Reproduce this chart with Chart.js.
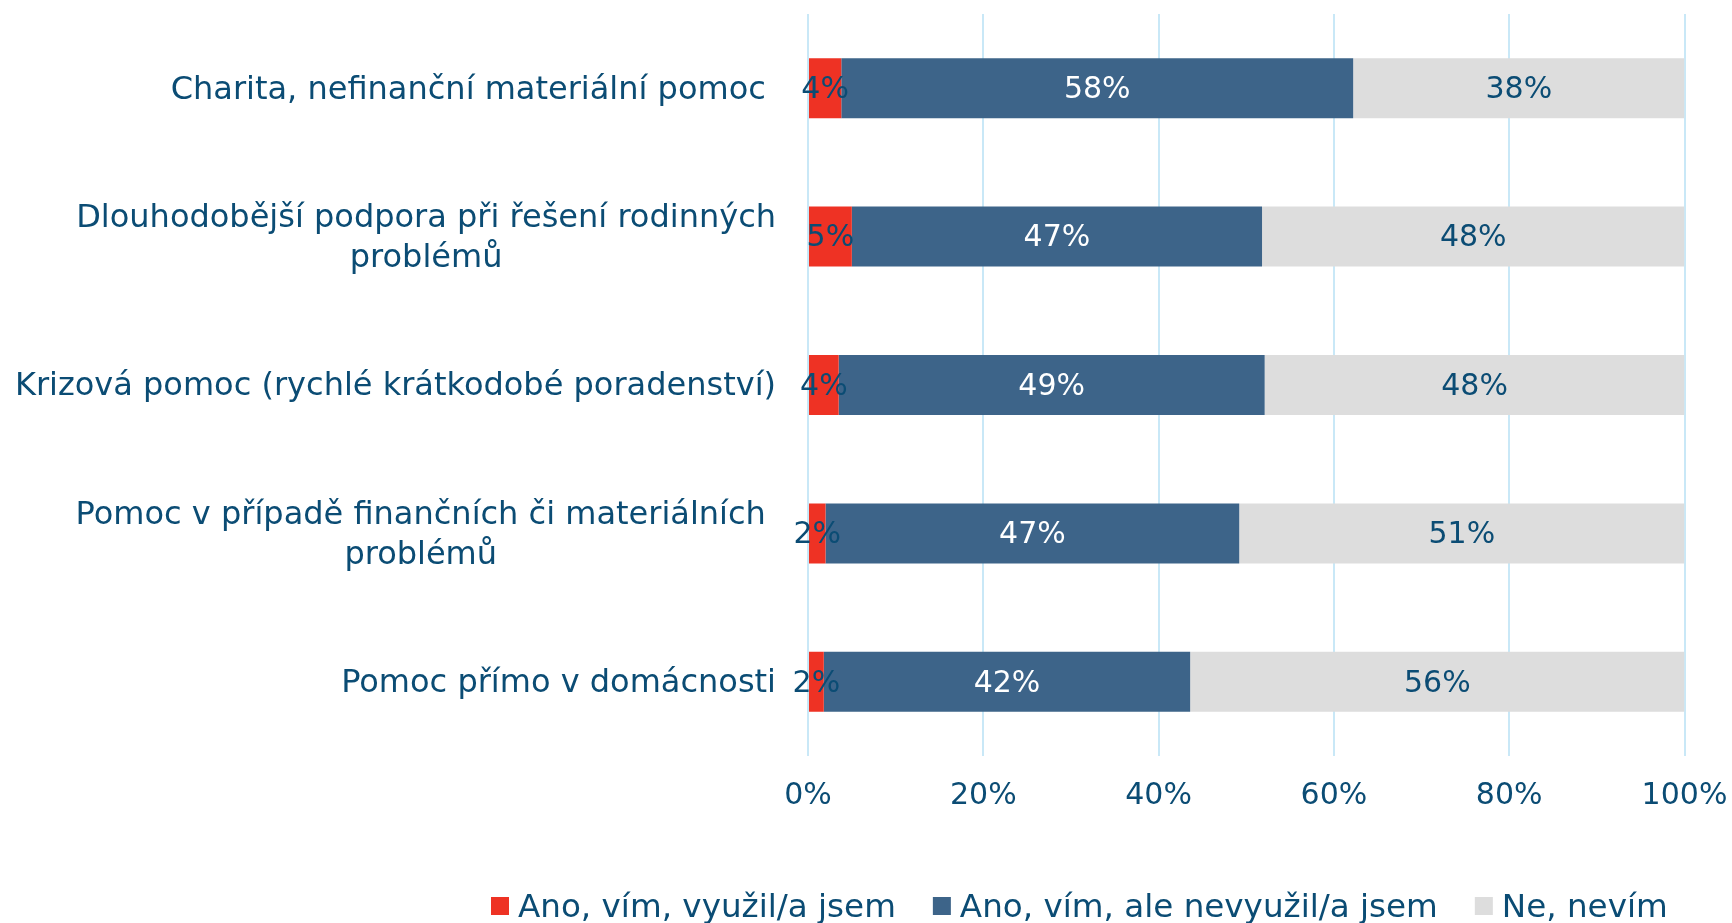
<!DOCTYPE html>
<html><head><meta charset="utf-8">
<script src="https://cdn.jsdelivr.net/npm/chart.js@4/dist/chart.umd.min.js"></script>
<style>html,body{margin:0;padding:0;background:#fff}#wrap{width:1732px;height:923px}</style>
</head><body><div id="wrap"><canvas id="c" width="1732" height="923"></canvas></div>
<script>
const categories = [
  ["Charita, nefinanční materiální pomoc "],
  ["Dlouhodobější podpora při řešení rodinných", "problémů"],
  ["Krizová pomoc (rychlé krátkodobé poradenství)"],
  ["Pomoc v případě finančních či materiálních ", "problémů"],
  ["Pomoc přímo v domácnosti"]
];
const seriesNames = ["Ano, vím, využil/a jsem", "Ano, vím, ale nevyužil/a jsem", "Ne, nevím"];
const usedValues    = [3.8, 5.0, 3.5, 2.0, 1.8];
const notUsedValues = [58.4, 46.8, 48.6, 47.2, 41.8];
const unknownValues = [37.8, 48.2, 47.9, 50.8, 56.4];
const xTickValues   = [0, 20, 40, 60, 80, 100];

const FONT = '"DejaVu Sans", Verdana, sans-serif';
const TEXT = '#0B4C74';
const colors = ['#EE3224', '#3D6489', '#DDDDDD'];
const labelColors = [TEXT, '#FFFFFF', TEXT];

const valueLabels = {
  id: 'valueLabels',
  afterDatasetsDraw(chart) {
    const ctx = chart.ctx;
    chart.data.datasets.forEach((ds, di) => {
      const meta = chart.getDatasetMeta(di);
      meta.data.forEach((bar, i) => {
        const cx = (bar.x + bar.base) / 2;
        ctx.save();
        ctx.font = '30px ' + FONT;
        ctx.fillStyle = labelColors[di];
        ctx.textAlign = 'center';
        ctx.textBaseline = 'middle';
        ctx.fillText(Math.round(ds.data[i]) + '%', cx, bar.y + 2);
        ctx.restore();
      });
    });
  }
};

const yLabels = {
  id: 'yLabels',
  afterDraw(chart) {
    const ctx = chart.ctx;
    const ys = chart.scales.y;
    const right = chart.chartArea.left - 32;
    const lh = 40;
    ctx.save();
    ctx.font = '32px ' + FONT;
    ctx.fillStyle = TEXT;
    ctx.textAlign = 'center';
    ctx.textBaseline = 'middle';
    chart.data.labels.forEach((lines, i) => {
      const cy = ys.getPixelForValue(i) + 2;
      const full = lines.map(l => ctx.measureText(l).width);
      const trimmed = lines.map(l => ctx.measureText(l.trimEnd()).width);
      let k = 0;
      full.forEach((w, j) => { if (w > full[k]) k = j; });
      const rightEdge = right - (full[k] - trimmed[k]);
      const cx = rightEdge - trimmed[k] / 2;
      lines.forEach((l, j) => {
        ctx.fillText(l.trimEnd(), cx, cy + (j - (lines.length - 1) / 2) * lh);
      });
    });
    ctx.restore();
  }
};

const bottomLegend = {
  id: 'bottomLegend',
  afterDraw(chart) {
    const ctx = chart.ctx;
    ctx.save();
    ctx.font = '32.6px ' + FONT;
    ctx.textBaseline = 'alphabetic';
    ctx.textAlign = 'left';
    let x = 491;
    const box = 18, boxTop = 897, baseline = 917;
    chart.data.datasets.forEach((ds) => {
      ctx.fillStyle = ds.backgroundColor;
      ctx.fillRect(x, boxTop, box, box);
      x += box + 9;
      ctx.fillStyle = TEXT;
      ctx.fillText(ds.label, x, baseline);
      x += ctx.measureText(ds.label).width + 37;
    });
    ctx.restore();
  }
};

new Chart(document.getElementById('c'), {
  type: 'bar',
  data: {
    labels: categories,
    datasets: [
      { label: seriesNames[0], data: usedValues, backgroundColor: colors[0] },
      { label: seriesNames[1], data: notUsedValues, backgroundColor: colors[1] },
      { label: seriesNames[2], data: unknownValues, backgroundColor: colors[2] }
    ]
  },
  options: {
    indexAxis: 'y',
    responsive: false,
    animation: false,
    layout: { padding: { top: 14, right: 0, left: 0, bottom: 82 } },
    datasets: { bar: { categoryPercentage: 0.404, barPercentage: 1.0, borderWidth: 0 } },
    scales: {
      x: {
        stacked: true, min: 0, max: 100,
        afterBuildTicks: s => { s.ticks = xTickValues.map(v => ({ value: v })); },
        ticks: { callback: v => v + '%', color: TEXT, font: { size: 30, family: FONT }, padding: 22, maxRotation: 0 },
        grid: { color: '#C9E8F7', lineWidth: 2, drawTicks: false },
        border: { display: false },
        afterFit: s => { s.height = 85; s.paddingRight = 47.5; s.paddingLeft = 0; }
      },
      y: {
        stacked: true,
        ticks: { display: false },
        grid: { display: false },
        border: { display: false },
        afterFit: s => { s.width = 808; }
      }
    },
    plugins: {
      legend: { display: false },
      tooltip: { enabled: false }
    }
  },
  plugins: [valueLabels, yLabels, bottomLegend]
});
</script>
</body></html>
